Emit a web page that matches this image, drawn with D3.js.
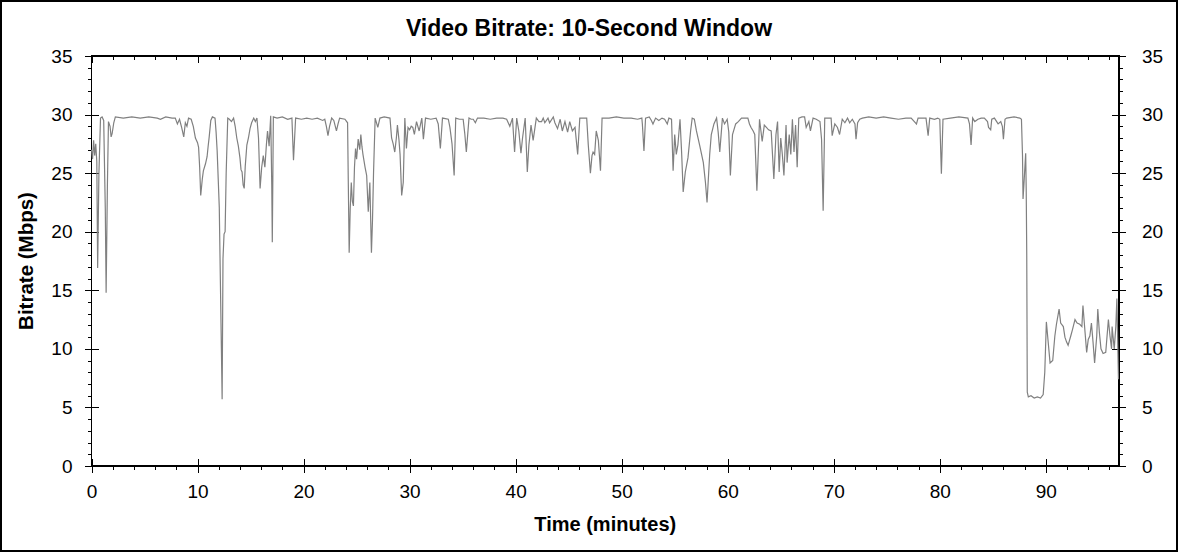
<html><head><script src="https://d3js.org/d3.v7.min.js"></script></head>
<body style="margin:0;background:white;">
<script>
// bitrate samples: [minute, Mbps]
var minutes = [0.0,0.1,0.2,0.3,0.4,0.5,0.58,0.7,0.85,1.0,1.15,1.3,1.38,1.5,1.6,1.75,1.85,1.95,2.1,2.25,3,3.8,4.6,5.4,6.2,6.5,7.0,7.6,7.9,8.1,8.3,8.5,8.7,8.85,9.0,9.15,9.4,9.6,9.8,10.0,10.1,10.2,10.3,10.45,10.55,10.75,10.9,11.0,11.1,11.25,11.4,11.65,11.75,11.85,11.95,12.05,12.15,12.25,12.32,12.4,12.5,12.6,12.7,12.85,
13.0,13.2,13.4,13.55,13.7,13.85,14.0,14.1,14.2,14.3,14.4,14.5,14.65,14.8,14.95,15.1,15.3,15.45,15.6,15.75,15.9,16.05,16.2,16.35,16.5,16.6,16.75,16.9,17.0,17.05,17.15,17.5,18.0,18.5,18.9,19.05,19.25,19.8,20.3,20.8,21.3,21.8,22.0,22.15,22.3,22.45,22.65,22.85,23.1,23.25,23.4,23.9,24.15,24.22,24.3,24.4,24.5,24.6,24.7,24.8,24.9,25.0,25.15,25.3,25.4,25.5,25.6,25.8,25.95,26.1,26.25,26.4,26.5,26.6,26.75,27.0,27.2,27.6,28.15,28.3,28.45,28.6,28.75,28.85,29.0,29.1,29.25,29.4,29.55,29.7,29.85,30.0,30.15,30.3,30.45,30.65,30.9,31.15,31.3,31.5,32.0,32.5,32.7,32.9,33.1,33.65,33.8,34.0,34.2,34.35,34.7,35.05,35.2,35.35,35.6,35.8,36.0,36.2,36.4,37.0,37.6,38.2,38.8,39.15,39.3,39.45,39.7,39.9,40.1,40.3,40.5,40.65,40.9,41.1,41.25,41.45,41.65,41.95,42.2,42.45,42.6,42.75,43.05,43.2,43.55,43.7,43.95,44.2,44.4,44.65,44.9,45.1,45.35,45.6,45.85,46.05,46.7,46.85,47.05,47.2,47.3,47.45,47.6,47.8,48.0,48.15,48.8,49.5,50.2,50.9,51.5,51.9,51.95,52.1,52.25,52.6,52.8,52.95,53.2,53.5,53.8,54.05,54.3,54.45,54.7,54.85,55.0,55.15,55.3,55.5,55.65,55.8,56.0,56.25,56.5,56.65,56.85,57.05,57.35,57.7,57.9,58.05,58.3,58.45,58.7,58.95,59.1,59.25,59.5,59.7,59.95,60.1,60.25,60.45,60.75,61.0,61.3,61.9,62.05,62.2,62.4,62.55,62.75,63.0,63.25,63.45,63.65,63.85,64.1,64.35,64.55,64.7,64.85,65.0,65.15,65.3,65.5,65.6,65.8,65.95,66.1,66.25,66.4,66.55,66.7,67.0,67.25,67.4,67.65,67.8,68.05,68.35,68.7,68.85,69.0,69.15,69.75,69.85,70.1,70.35,70.55,70.8,71.05,71.3,71.5,71.75,72.0,72.1,72.25,72.45,72.7,73.3,74.0,74.7,75.4,76.1,76.8,77.3,77.6,77.8,77.95,78.7,78.9,79.05,79.5,79.8,80.0,80.15,80.3,81.0,81.8,82.65,82.8,82.95,83.1,83.3,83.6,83.9,84.2,84.5,84.6,84.8,84.9,85.15,85.5,85.75,85.9,86.0,86.15,86.3,87.0,87.55,87.7,87.8,87.85,87.95,88.1,88.15,88.2,88.25,88.35,88.6,88.9,89.2,89.5,89.75,89.9,90.05,90.2,90.4,90.65,90.85,91.0,91.25,91.4,91.65,91.8,91.95,92.1,92.35,92.5,92.75,92.95,93.2,93.4,93.5,93.7,93.85,94.0,94.15,94.3,94.45,94.6,94.8,94.9,95.05,95.2,95.4,95.65,95.9,96.05,96.2,96.25,96.45,96.6,96.7,96.85];
var mbps = [27.0,26.2,27.8,26.5,27.5,26.0,16.9,25.0,29.7,29.8,29.5,22.0,14.8,24.0,29.4,29.0,28.1,28.4,29.3,29.8,29.7,29.8,29.7,29.8,29.7,29.6,29.8,29.7,29.7,29.2,29.6,28.9,28.1,29.3,29.0,29.7,29.6,29.0,28.0,27.6,27.2,25.5,23.1,24.5,25.2,25.8,26.4,27.3,28.1,29.5,29.8,29.7,28.5,26.9,24.5,22.1,16.0,10.0,5.7,17.7,19.8,20.0,25.0,29.7,
29.6,29.4,29.7,29.0,28.0,27.3,26.3,25.3,25.1,24.0,23.7,25.6,27.4,28.0,28.8,29.3,29.7,29.4,29.7,28.0,23.7,25.5,26.5,25.5,27.5,28.6,27.3,29.9,24.0,19.1,29.8,29.7,29.8,29.6,29.7,26.1,29.7,29.6,29.7,29.6,29.7,29.5,29.6,29.0,28.2,29.0,29.7,29.5,28.6,29.2,29.7,29.6,29.3,24.0,18.2,22.0,24.2,22.6,22.2,25.5,27.1,26.2,27.9,27.0,28.3,27.3,26.6,25.5,24.8,21.7,24.2,18.2,21.0,25.1,29.7,28.9,29.7,29.8,29.7,28.0,27.5,26.8,28.0,29.1,27.8,26.6,23.1,24.2,29.7,27.1,28.9,28.7,29.0,28.9,28.3,29.4,28.6,29.7,27.9,29.7,29.6,29.7,29.2,27.1,29.7,29.6,28.9,27.5,24.8,29.7,29.6,29.6,28.4,26.8,29.7,29.6,29.6,29.3,29.7,29.7,29.6,29.7,29.7,29.6,29.3,29.0,29.7,26.8,29.7,28.6,26.7,28.0,29.7,25.1,27.4,29.1,27.8,29.7,29.4,29.4,29.7,29.3,29.7,29.3,29.8,29.3,28.8,29.6,28.6,29.4,28.5,29.4,28.6,28.9,26.6,29.7,29.7,27.4,25.0,26.5,26.8,26.6,28.6,27.8,25.2,29.7,29.7,29.8,29.7,29.7,29.6,29.7,29.2,26.9,29.7,29.8,29.5,29.2,29.7,29.5,29.7,29.6,29.2,29.7,29.6,25.2,28.3,26.6,27.4,29.6,26.8,23.4,25.1,26.3,28.6,29.7,29.6,28.6,27.4,25.9,24.2,22.5,26.6,28.3,29.2,29.7,28.5,26.8,29.7,29.2,29.6,28.5,24.8,28.3,29.2,29.4,29.7,29.7,29.2,28.9,28.6,28.3,23.5,29.6,27.7,29.1,28.9,28.7,28.6,24.5,28.3,29.4,25.1,28.0,26.6,24.8,29.1,25.9,28.3,26.6,29.6,26.8,29.1,25.5,29.7,29.8,29.8,28.9,29.4,28.6,29.7,29.6,29.4,27.9,21.8,29.7,29.7,28.2,29.2,28.9,28.3,29.6,29.3,29.7,29.3,29.6,29.2,27.9,29.3,29.6,29.7,29.8,29.7,29.8,29.7,29.6,29.7,29.7,29.4,29.2,29.7,29.7,28.2,29.7,29.6,29.7,29.6,24.95,29.6,29.7,29.8,29.7,29.2,27.4,29.7,29.4,29.6,29.7,29.7,29.4,28.9,28.7,29.6,29.7,29.2,29.4,29.0,27.9,29.6,29.7,29.8,29.7,29.6,26.5,22.8,24.3,26.7,23.6,18.0,6.3,5.9,6.0,5.8,5.9,5.8,6.1,8.0,12.3,10.8,8.8,9.0,11.1,12.1,13.4,12.2,11.9,11.0,10.6,10.3,11.1,11.6,12.5,12.2,12.1,11.9,13.7,11.4,9.7,10.8,11.1,12.2,10.6,8.8,11.1,13.4,11.4,10.0,9.6,9.7,12.5,11.1,10.0,11.9,10.0,11.9,14.3,7.4];

var xMajor = [0,10,20,30,40,50,60,70,80,90];
var yMajor = [0,5,10,15,20,25,30,35];
var xMax = 96.9, yMax = 35;

var W = 1178, H = 552;
var plotL = 91.5, plotR = 1119, plotT = 56, plotB = 466;

var svg = d3.select("body").append("svg")
  .attr("width", W).attr("height", H)
  .style("font-family", "'Liberation Sans', Arial, sans-serif");

svg.append("rect")
  .attr("x", 1).attr("y", 1).attr("width", W - 2).attr("height", H - 2)
  .attr("fill", "white").attr("stroke", "black").attr("stroke-width", 2);

var x = d3.scaleLinear().domain([0, xMax]).range([plotL, plotR]);
var y = d3.scaleLinear().domain([0, yMax]).range([plotB, plotT]);

var xMinor = d3.range(0, xMax, 2).filter(function(d){ return d % 10 !== 0; });
var yMinor = d3.range(0, yMax, 1).filter(function(d){ return d % 5 !== 0; });

function styleAxis(g) {
  g.select(".domain").remove();
  g.selectAll("line").attr("stroke", "black").attr("shape-rendering", "crispEdges");
  g.selectAll("text").attr("font-size", 19).attr("fill", "black");
  g.attr("font-family", null).attr("font-size", null);
}

function addAxis(axis, tx, ty) {
  svg.append("g").attr("transform", "translate(" + tx + "," + ty + ")").call(axis).call(styleAxis);
}

// bottom axis: labels, crossing majors, outward minors
addAxis(d3.axisBottom(x).tickValues(xMajor).tickSize(7).tickPadding(12).tickFormat(d3.format("d")), 0, plotB);
addAxis(d3.axisBottom(x).tickValues(xMajor).tickSize(-7).tickFormat(""), 0, plotB);
addAxis(d3.axisBottom(x).tickValues(xMinor).tickSize(4).tickFormat(""), 0, plotB);

// top axis: inward ticks
addAxis(d3.axisTop(x).tickValues(xMajor).tickSize(-7).tickFormat(""), 0, plotT);
addAxis(d3.axisTop(x).tickValues(xMinor).tickSize(-4).tickFormat(""), 0, plotT);

// left axis
addAxis(d3.axisLeft(y).tickValues(yMajor).tickSize(7).tickPadding(12).tickFormat(d3.format("d")), plotL, 0);
addAxis(d3.axisLeft(y).tickValues(yMajor).tickSize(-7).tickFormat(""), plotL, 0);
addAxis(d3.axisLeft(y).tickValues(yMinor).tickSize(4).tickFormat(""), plotL, 0);

// right axis
addAxis(d3.axisRight(y).tickValues(yMajor).tickSize(7).tickPadding(16).tickFormat(d3.format("d")), plotR, 0);
addAxis(d3.axisRight(y).tickValues(yMajor).tickSize(-7).tickFormat(""), plotR, 0);
addAxis(d3.axisRight(y).tickValues(yMinor).tickSize(4).tickFormat(""), plotR, 0);

// frame
svg.append("rect")
  .attr("x", plotL).attr("y", plotT).attr("width", plotR - plotL).attr("height", plotB - plotT)
  .attr("fill", "none").attr("stroke", "black").attr("stroke-width", 1.5)
  .attr("shape-rendering", "crispEdges");

// series
var pts = minutes.map(function(m, i){ return [m, mbps[i]]; });
svg.append("path")
  .datum(pts)
  .attr("fill", "none")
  .attr("stroke", "#808080")
  .attr("stroke-width", 1.2)
  .attr("d", d3.line().x(function(d){ return x(d[0]); }).y(function(d){ return y(d[1]); }));

// texts
svg.append("text").attr("x", W / 2).attr("y", 36)
  .attr("text-anchor", "middle").attr("font-size", 23).attr("font-weight", "bold")
  .text("Video Bitrate: 10-Second Window");
svg.append("text").attr("x", (plotL + plotR) / 2).attr("y", 531)
  .attr("text-anchor", "middle").attr("font-size", 20).attr("font-weight", "bold")
  .text("Time (minutes)");
svg.append("text")
  .attr("transform", "translate(33," + ((plotT + plotB) / 2) + ") rotate(-90)")
  .attr("text-anchor", "middle").attr("font-size", 20.5).attr("font-weight", "bold")
  .text("Bitrate (Mbps)");
</script>
</body></html>
